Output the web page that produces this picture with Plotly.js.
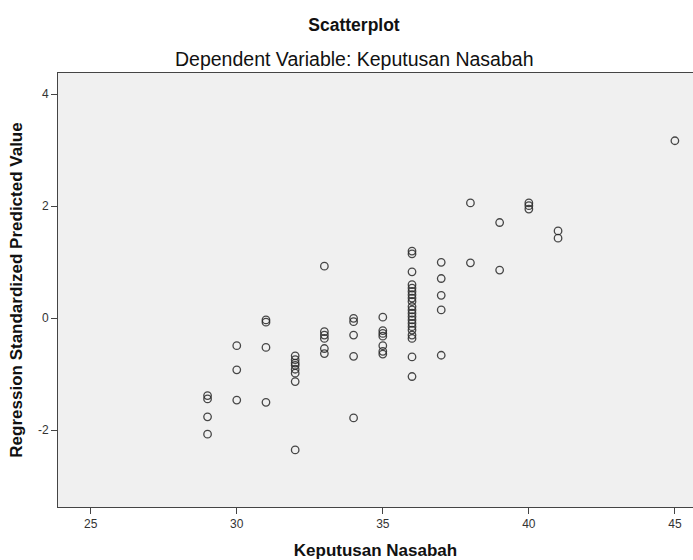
<!DOCTYPE html>
<html>
<head>
<meta charset="utf-8">
<script src="https://cdn.plot.ly/plotly-3.0.1.min.js"></script>
<style>html,body{margin:0;padding:0;background:#fff;}#chart{width:693px;height:560px;}</style>
</head>
<body>
<div id="chart"></div>
<script>
// Keputusan Nasabah (observed dependent variable)
var keputusan = [
  29, 29, 29, 29,
  30, 30, 30,
  31, 31, 31, 31,
  32, 32, 32, 32, 32, 32, 32, 32,
  33, 33, 33, 33, 33, 33,
  34, 34, 34, 34, 34,
  35, 35, 35, 35, 35, 35, 35,
  36, 36, 36, 36, 36, 36, 36, 36, 36, 36, 36, 36, 36, 36, 36, 36, 36, 36, 36, 36, 36,
  37, 37, 37, 37, 37,
  38, 38,
  39, 39,
  40, 40, 40,
  41, 41,
  45
];
// Regression Standardized Predicted Value
var predicted = [
  -1.38, -1.44, -1.76, -2.07,
  -0.49, -0.92, -1.46,
  -0.03, -0.07, -0.52, -1.50,
  -0.67, -0.74, -0.80, -0.84, -0.91, -0.98, -1.13, -2.35,
  0.93, -0.24, -0.30, -0.36, -0.54, -0.63,
  0.00, -0.06, -0.30, -0.68, -1.78,
  0.02, -0.22, -0.27, -0.32, -0.49, -0.59, -0.64,
  1.20, 1.15, 0.83, 0.60, 0.54, 0.48, 0.42, 0.36, 0.30, 0.21, 0.15, 0.09, 0.03, -0.03, -0.09, -0.15, -0.21, -0.30, -0.36, -0.69, -1.04,
  1.00, 0.71, 0.41, 0.15, -0.66,
  2.06, 0.99,
  1.71, 0.86,
  2.06, 2.01, 1.95,
  1.56, 1.43,
  3.17
];
var xTicks = [25, 30, 35, 40, 45];
var yTicks = [-2, 0, 2, 4];

var chartTitle = 'Scatterplot';
var subTitle = 'Dependent Variable: Keputusan Nasabah';
var xTitle = 'Keputusan Nasabah';
var yTitle = 'Regression Standardized Predicted Value';

var FONT = 'Liberation Sans, Arial, sans-serif';

var trace = {
  type: 'scatter',
  mode: 'markers',
  x: keputusan,
  y: predicted,
  marker: {
    symbol: 'circle-open',
    size: 7.5,
    color: 'rgba(40,40,40,0.85)',
    line: {width: 1.3, color: 'rgba(40,40,40,0.85)'}
  },
  hoverinfo: 'x+y',
  showlegend: false
};

var layout = {
  width: 693,
  height: 560,
  margin: {l: 58, r: 0, t: 73, b: 53, pad: 0},
  paper_bgcolor: '#ffffff',
  plot_bgcolor: '#f0f0f0',
  font: {family: FONT, color: '#222'},
  title: {
    text: '<b>' + chartTitle + '</b>',
    font: {family: FONT, size: 17.5, color: '#111'},
    x: 354 / 693, xanchor: 'center', xref: 'container',
    y: 1 - 25 / 560, yanchor: 'middle', yref: 'container'
  },
  annotations: [{
    text: subTitle,
    xref: 'paper', yref: 'paper',
    x: (354 - 58) / 635, y: (506.7 - 58.5) / 434,
    xanchor: 'center', yanchor: 'middle',
    showarrow: false,
    font: {family: FONT, size: 19.5, color: '#111'}
  }],
  xaxis: {
    range: [23.88, 45.62],
    tickvals: xTicks,
    ticktext: xTicks.map(String),
    ticks: 'outside', ticklen: 6, tickwidth: 1, tickcolor: '#444',
    tickfont: {family: FONT, size: 12, color: '#333'},
    showline: true, linecolor: '#444', linewidth: 1, mirror: true,
    showgrid: false, zeroline: false,
    title: {text: '<b>' + xTitle + '</b>', font: {family: FONT, size: 17, color: '#111'}, standoff: 14}
  },
  yaxis: {
    range: [-3.37, 4.38],
    tickvals: yTicks,
    ticktext: yTicks.map(String),
    ticks: 'outside', ticklen: 6, tickwidth: 1, tickcolor: '#444',
    tickfont: {family: FONT, size: 12, color: '#333'},
    showline: true, linecolor: '#444', linewidth: 1, mirror: false,
    showgrid: false, zeroline: false,
    title: {text: '<b>' + yTitle + '</b>', font: {family: FONT, size: 17, color: '#111'}, standoff: 10}
  }
};

Plotly.newPlot('chart', [trace], layout, {displayModeBar: false, staticPlot: true});
</script>
</body>
</html>
